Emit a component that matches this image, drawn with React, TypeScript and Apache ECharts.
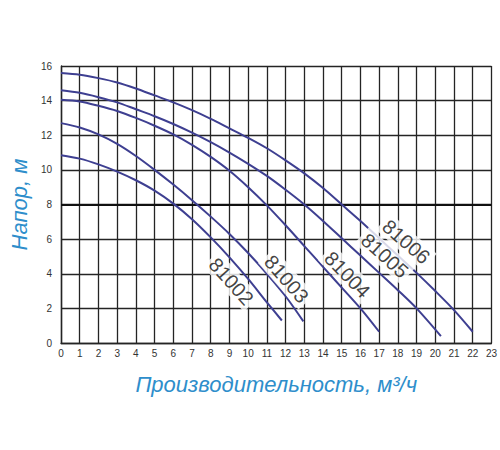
import React, { useEffect, useRef } from "react";
import * as echarts from "echarts";

const curveNames = ["81002", "81003", "81004", "81005", "81006"];

const pump81002 = [
  [0, 10.85], [1, 10.65], [2, 10.32], [3, 9.9], [4, 9.4], [5, 8.8], [6, 8.05],
  [7, 7.15], [8, 6.1], [9, 4.95], [10, 3.7], [11, 2.35], [11.8, 1.3],
];
const pump81003 = [
  [0, 12.7], [1, 12.45], [2, 12.05], [3, 11.5], [4, 10.8], [5, 10.0], [6, 9.15],
  [7, 8.25], [8, 7.3], [9, 6.3], [10, 5.2], [11, 4.0], [12, 2.7], [12.95, 1.25],
];
const pump81004 = [
  [0, 14.05], [1, 13.95], [2, 13.7], [3, 13.4], [4, 13.0], [5, 12.55], [6, 12.05],
  [7, 11.45], [8, 10.75], [9, 9.95], [10, 9.0], [11, 7.95], [12, 6.8], [13, 5.6],
  [14, 4.4], [15, 3.2], [16, 2.0], [17, 0.65],
];
const pump81005 = [
  [0, 14.6], [1, 14.45], [2, 14.2], [3, 13.9], [4, 13.5], [5, 13.1], [6, 12.65],
  [7, 12.15], [8, 11.6], [9, 11.0], [10, 10.35], [11, 9.65], [12, 8.85], [13, 8.0],
  [14, 7.05], [15, 6.05], [16, 5.05], [17, 4.05], [18, 3.05], [19, 2.0], [20.3, 0.4],
];
const pump81006 = [
  [0, 15.6], [1, 15.5], [2, 15.3], [3, 15.05], [4, 14.7], [5, 14.3], [6, 13.9],
  [7, 13.45], [8, 12.95], [9, 12.4], [10, 11.85], [11, 11.25], [12, 10.55], [13, 9.8],
  [14, 8.95], [15, 8.0], [16, 7.05], [17, 6.05], [18, 5.05], [19, 4.05], [20, 3.0],
  [21, 1.9], [22, 0.65],
];
const curves = [pump81002, pump81003, pump81004, pump81005, pump81006];

// label anchor points (in data units) for the curve names
const labelAnchors = [
  [9.1, 3.55],
  [12.05, 3.7],
  [15.3, 3.95],
  [17.3, 5.05],
  [18.45, 5.85],
];
const labelAngles = [-48, -49, -46, -42, -41];

const xMin = 0;
const xMax = 23;
const yMin = 0;
const yMax = 16;
const yStep = 2;
const boldLineValue = 8;

const xTitle = "Производительность, м³/ч";
const yTitle = "Напор, м";

export default function App() {
  const ref = useRef<HTMLDivElement>(null);

  useEffect(() => {
    if (!ref.current) return;
    const chart = echarts.init(ref.current, null, { renderer: "svg" });
    const curveColor = "#3e3f91";
    const gridColor = "#242424";
    const titleColor = "#2e8ecb";
    const font = "Liberation Sans, Arial, sans-serif";

    const lineSeries = curves.map((data, i) => ({
      name: curveNames[i],
      type: "line",
      data,
      smooth: 0.3,
      symbol: "none",
      lineStyle: { color: curveColor, width: 2 },
      z: 3,
      ...(i === 0
        ? {
            markLine: {
              silent: true,
              symbol: "none",
              label: { show: false },
              lineStyle: { color: "#111", width: 2.2, type: "solid" },
              data: [{ yAxis: boldLineValue }],
              z: 2,
            },
          }
        : {}),
    }));

    const labelSeries = {
      type: "scatter",
      symbolSize: 0,
      z: 10,
      silent: true,
      data: labelAnchors.map((p, i) => ({
        value: [p[0], p[1], curveNames[i]],
        label: { rotate: labelAngles[i] },
      })),
      label: {
        show: true,
        position: "inside",
        formatter: (p: any) => p.value[2],
        fontSize: 20,
        fontFamily: font,
        color: "#111111",
        backgroundColor: "#ffffff",
        padding: [1, 3],
      },
    };

    chart.setOption({
      animation: false,
      backgroundColor: "#ffffff",
      grid: { left: 58, right: 8, top: 66, bottom: 107, containLabel: false },
      xAxis: {
        type: "value",
        min: xMin,
        max: xMax,
        interval: 1,
        name: xTitle,
        nameLocation: "middle",
        nameGap: 30,
        nameTextStyle: {
          fontSize: 22,
          fontStyle: "italic",
          color: titleColor,
          fontFamily: font,
        },
        axisLine: { show: true, lineStyle: { color: gridColor, width: 1.4 } },
        axisTick: { show: false },
        axisLabel: { fontSize: 10, color: "#333", margin: 5, fontFamily: font },
        splitLine: { show: true, lineStyle: { color: gridColor, width: 1.3 } },
      },
      yAxis: {
        type: "value",
        min: yMin,
        max: yMax,
        interval: yStep,
        name: yTitle,
        nameLocation: "middle",
        nameGap: 26,
        nameRotate: 90,
        nameTextStyle: {
          fontSize: 22,
          fontStyle: "italic",
          color: titleColor,
          fontFamily: font,
        },
        axisLine: { show: true, lineStyle: { color: gridColor, width: 1.4 } },
        axisTick: { show: false },
        axisLabel: { fontSize: 10, color: "#333", margin: 9, fontFamily: font },
        splitLine: { show: true, lineStyle: { color: gridColor, width: 1.3 } },
      },
      series: [...lineSeries, labelSeries],
    });

    return () => chart.dispose();
  }, []);

  return (
    <div
      ref={ref}
      style={{ position: "fixed", left: 0, top: 0, width: 500, height: 450 }}
    />
  );
}
